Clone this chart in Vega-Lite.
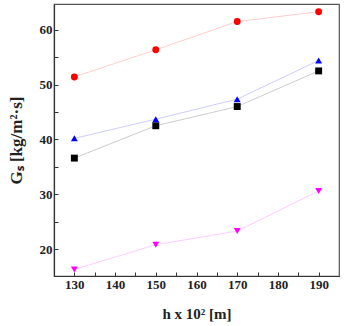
{
  "$schema": "https://vega.github.io/schema/vega-lite/v6.json",
  "width": 285,
  "height": 272,
  "autosize": "none",
  "padding": {"left": 54, "top": 4, "right": 7, "bottom": 50},
  "background": "white",
  "config": {
    "view": {"stroke": "#555555", "strokeWidth": 1.2},
    "font": "Liberation Serif",
    "axis": {
      "domainColor": "#333333",
      "domainWidth": 1.2,
      "tickColor": "#333333",
      "tickWidth": 1,
      "grid": false,
      "labelFont": "Liberation Serif",
      "labelFontWeight": "bold",
      "labelFontSize": 13,
      "labelColor": "#222222",
      "titleFont": "Liberation Serif",
      "titleFontWeight": "bold",
      "titleFontSize": 15,
      "titleColor": "#222222"
    }
  },
  "data": {
    "values": [
      {"series": "A", "h": 130, "gs": 36.6},
      {"series": "A", "h": 150, "gs": 42.5},
      {"series": "A", "h": 170, "gs": 46.0},
      {"series": "A", "h": 190, "gs": 52.5},
      {"series": "B", "h": 130, "gs": 51.4},
      {"series": "B", "h": 150, "gs": 56.35},
      {"series": "B", "h": 170, "gs": 61.5},
      {"series": "B", "h": 190, "gs": 63.3},
      {"series": "C", "h": 130, "gs": 40.2},
      {"series": "C", "h": 150, "gs": 43.7},
      {"series": "C", "h": 170, "gs": 47.35},
      {"series": "C", "h": 190, "gs": 54.4},
      {"series": "D", "h": 130, "gs": 16.3},
      {"series": "D", "h": 150, "gs": 20.8},
      {"series": "D", "h": 170, "gs": 23.3},
      {"series": "D", "h": 190, "gs": 30.6}
    ]
  },
  "encoding": {
    "x": {
      "field": "h",
      "type": "quantitative",
      "scale": {"domain": [125, 195], "nice": false, "zero": false},
      "axis": {
        "title": "h x 10² [m]",
        "values": [130, 135, 140, 145, 150, 155, 160, 165, 170, 175, 180, 185, 190],
        "labelExpr": "datum.value % 10 === 0 ? datum.label : ''",
        "tickSize": -4,
        "labelPadding": 6,
        "titlePadding": 15
      }
    },
    "y": {
      "field": "gs",
      "type": "quantitative",
      "scale": {"domain": [15.1, 64.7], "nice": false, "zero": false},
      "axis": {
        "title": "Gₛ [kg/m²·s]",
        "values": [20, 25, 30, 35, 40, 45, 50, 55, 60],
        "labelExpr": "datum.value % 10 === 0 ? datum.label : ''",
        "tickSize": -4,
        "labelPadding": 6,
        "titlePadding": 14,
        "titleFontSize": 17
      }
    },
    "color": {
      "field": "series",
      "type": "nominal",
      "scale": {"domain": ["A", "B", "C", "D"], "range": ["#000000", "#ff0000", "#0000ff", "#ff00ff"]},
      "legend": null
    }
  },
  "layer": [
    {
      "mark": {"type": "line", "strokeWidth": 0.8, "opacity": 0.25}
    },
    {
      "mark": {"type": "point", "filled": true, "opacity": 1, "size": 48},
      "encoding": {
        "shape": {
          "field": "series",
          "type": "nominal",
          "scale": {"domain": ["A", "B", "C", "D"], "range": ["square", "circle", "triangle-up", "triangle-down"]},
          "legend": null
        }
      }
    }
  ]
}
